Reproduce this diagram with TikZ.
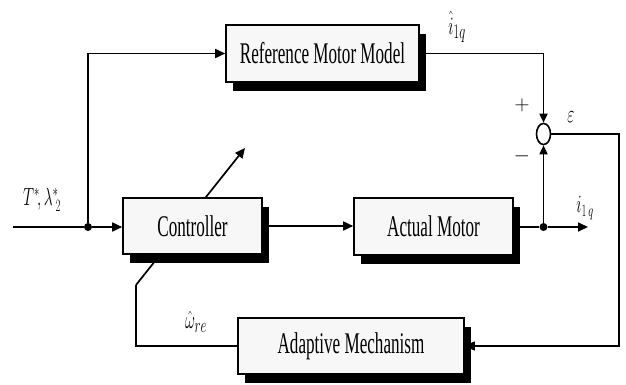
\documentclass[tikz,border=0pt]{standalone}
\usepackage{fontspec}
\setmainfont{Liberation Serif}
\usepackage{graphicx}
\usetikzlibrary{arrows.meta,shadows,shapes.geometric}
\newcommand{\cond}[1]{\scalebox{0.57}[1]{#1}}
\newcommand{\condm}[1]{\scalebox{0.62}[1]{#1}}
\begin{document}
\begin{tikzpicture}[x=1pt,y=-1pt,
  blockbox/.style={draw, line width=1.6pt, fill=gray!6, inner sep=0pt,
    drop shadow={shadow xshift=7pt, shadow yshift=-9pt, fill=black, opacity=1},
    font=\fontsize{30}{32}\selectfont},
  wire/.style={line width=1.7pt},
  arr/.style={wire, -{Triangle[length=10pt,width=9pt]}},
  sarr/.style={wire, -{Triangle[length=9pt,width=8pt]}},
  jdot/.style={circle, fill=black, inner sep=0pt, minimum size=8pt},
  lbl/.style={inner sep=0pt}]
\useasboundingbox (0,0) rectangle (626,385);

% diagonal adjustment arrow (behind the controller)
\coordinate (dg1) at (136,285);
\coordinate (dg2) at (245,148);
\draw[arr] (dg1) -- (dg2);

% blocks
\node[blockbox, minimum width=193pt, minimum height=57pt] (ref) at (322.5,53.5) {\cond{Reference Motor Model}};
\node[blockbox, minimum width=139pt, minimum height=56pt] (ctrl) at (192.5,226) {\cond{Controller}};
\node[blockbox, minimum width=159pt, minimum height=57pt] (act) at (433.5,226.5) {\cond{Actual Motor}};
\node[blockbox, minimum width=226pt, minimum height=56pt] (adp) at (351,346) {\cond{Adaptive Mechanism}};

% summing junction
\node[ellipse, draw, line width=1.6pt, fill=white, inner sep=0pt,
      minimum width=14pt, minimum height=21pt] (sum) at (543.5,134) {};

% junctions and free ends
\coordinate (in) at (13,227);
\node[jdot] (j1) at (88,227) {};
\node[jdot] (j2) at (543.5,227) {};
\coordinate (out) at (588,227);
\coordinate (cr) at (619,346);
\coordinate (fb) at (136,346);

% connectors
\draw[arr] (in) -- (j1) -- (j1 -| ctrl.west);
\draw[arr] (j1) |- (ref.west);
\draw[arr] (ctrl.east) -- (ctrl.east -| act.west);
\draw[wire] (act.east |- j2) -- (j2);
\draw[arr] (j2) -- (out);
\draw[sarr] (j2) -- (sum.south);
\draw[sarr] (ref.east) -| (sum.north);
\draw[arr] (sum.east) -| (cr) -- (adp.east);
\draw[wire] (adp.west) -- (fb) -- (dg1);

% labels
\node[lbl] (lT) at (42,200) {\condm{\fontsize{26}{28}\selectfont $T^{*}\!,\lambda^{*}_{\;2}$}};
\node[lbl] (lih) at (457,27) {\condm{\fontsize{28}{30}\selectfont $\hat{i}_{1q}$}};
\node[lbl] (lp) at (522,105) {\fontsize{20}{22}\selectfont $+$};
\node[lbl] (lm) at (522,156) {\fontsize{20}{22}\selectfont $-$};
\node[lbl] (leps) at (571,117) {\condm{\fontsize{26}{28}\selectfont $\varepsilon$}};
\node[lbl] (li) at (585,208) {\condm{\fontsize{26}{28}\selectfont $i_{1\,q}$}};
\node[lbl] (lw) at (196,322) {\condm{\fontsize{28}{30}\selectfont $\hat{\omega}_{re}$}};
\end{tikzpicture}
\end{document}
